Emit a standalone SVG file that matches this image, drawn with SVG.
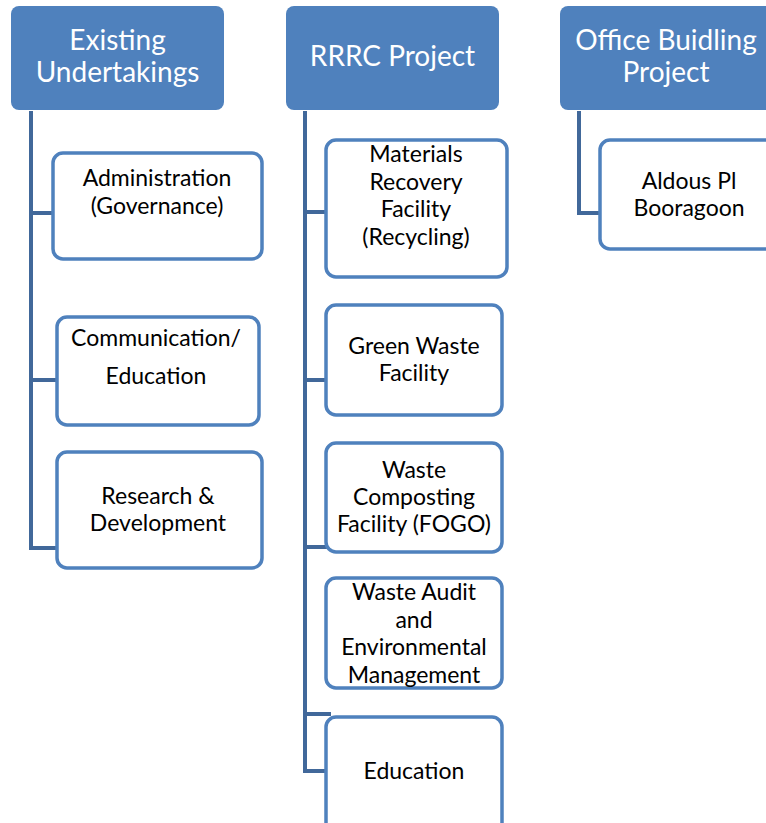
<svg xmlns="http://www.w3.org/2000/svg" width="766" height="823" viewBox="0 0 766 823">
<style>
.hdr{fill:#4F81BD;}
.ht{font-family:Lato,"Liberation Sans",sans-serif;font-size:28px;fill:#fff;text-anchor:middle;}
.box{fill:#fff;stroke:#4F81BD;stroke-width:3.5;}
.bt{font-family:Lato,"Liberation Sans",sans-serif;font-size:23px;fill:#000;text-anchor:middle;}
.con{fill:none;stroke:#41689A;stroke-width:4;}
</style>
<rect width="766" height="823" fill="#fff"/>
<g id="connectors">
<path class="con" d="M31,111 V548 M29,213 H53 M29,380 H57 M29,548 H57"/>
<path class="con" d="M305,111 V771 M303,212 H327 M303,380 H327 M303,547 H327 M303,714 H331 M303,771 H327"/>
<path class="con" d="M579,111 V213 H600"/>
</g>
<g id="h1"><rect class="hdr" x="11" y="6" width="213" height="104" rx="8"/><text class="ht" x="117.5" y="50">Existing</text><text class="ht" x="117.5" y="82">Undertakings</text></g>
<g id="h2"><rect class="hdr" x="286" y="6" width="213" height="104" rx="8"/><text class="ht" x="392.5" y="66">RRRC Project</text></g>
<g id="h3"><rect class="hdr" x="560" y="6" width="230" height="104" rx="8"/><text class="ht" x="666" y="50">Office Buidling</text><text class="ht" x="666" y="82">Project</text></g>
<g id="n-admin"><rect class="box" x="53" y="153" width="209" height="106" rx="10"/><text class="bt" x="157" y="186">Administration</text><text class="bt" x="157" y="214">(Governance)</text></g>
<g id="n-comm"><rect class="box" x="57" y="317" width="202" height="108" rx="10"/><text class="bt" x="156" y="346">Communication/</text><text class="bt" x="156" y="384">Education</text></g>
<g id="n-rd"><rect class="box" x="57" y="452" width="205" height="116" rx="10"/><text class="bt" x="158" y="504">Research &amp;</text><text class="bt" x="158" y="531">Development</text></g>
<g id="n-mrf"><rect class="box" x="326" y="140" width="181" height="137" rx="10"/><text class="bt" x="416" y="162">Materials</text><text class="bt" x="416" y="190">Recovery</text><text class="bt" x="416" y="217">Facility</text><text class="bt" x="416" y="245">(Recycling)</text></g>
<g id="n-green"><rect class="box" x="326" y="305" width="176" height="110" rx="10"/><text class="bt" x="414" y="354">Green Waste</text><text class="bt" x="414" y="381">Facility</text></g>
<g id="n-comp"><rect class="box" x="326" y="443" width="176" height="109" rx="10"/><text class="bt" x="414" y="478">Waste</text><text class="bt" x="414" y="505">Composting</text><text class="bt" x="414" y="532">Facility (FOGO)</text></g>
<g id="n-audit"><rect class="box" x="326" y="578" width="176" height="110" rx="10"/><text class="bt" x="414" y="600">Waste Audit</text><text class="bt" x="414" y="628">and</text><text class="bt" x="414" y="655">Environmental</text><text class="bt" x="414" y="683">Management</text></g>
<g id="n-edu"><rect class="box" x="326" y="717" width="176" height="130" rx="10"/><text class="bt" x="414" y="779">Education</text></g>
<g id="n-aldous"><rect class="box" x="600" y="140" width="200" height="109" rx="10"/><text class="bt" x="689" y="189">Aldous Pl</text><text class="bt" x="689" y="216">Booragoon</text></g>
</svg>
